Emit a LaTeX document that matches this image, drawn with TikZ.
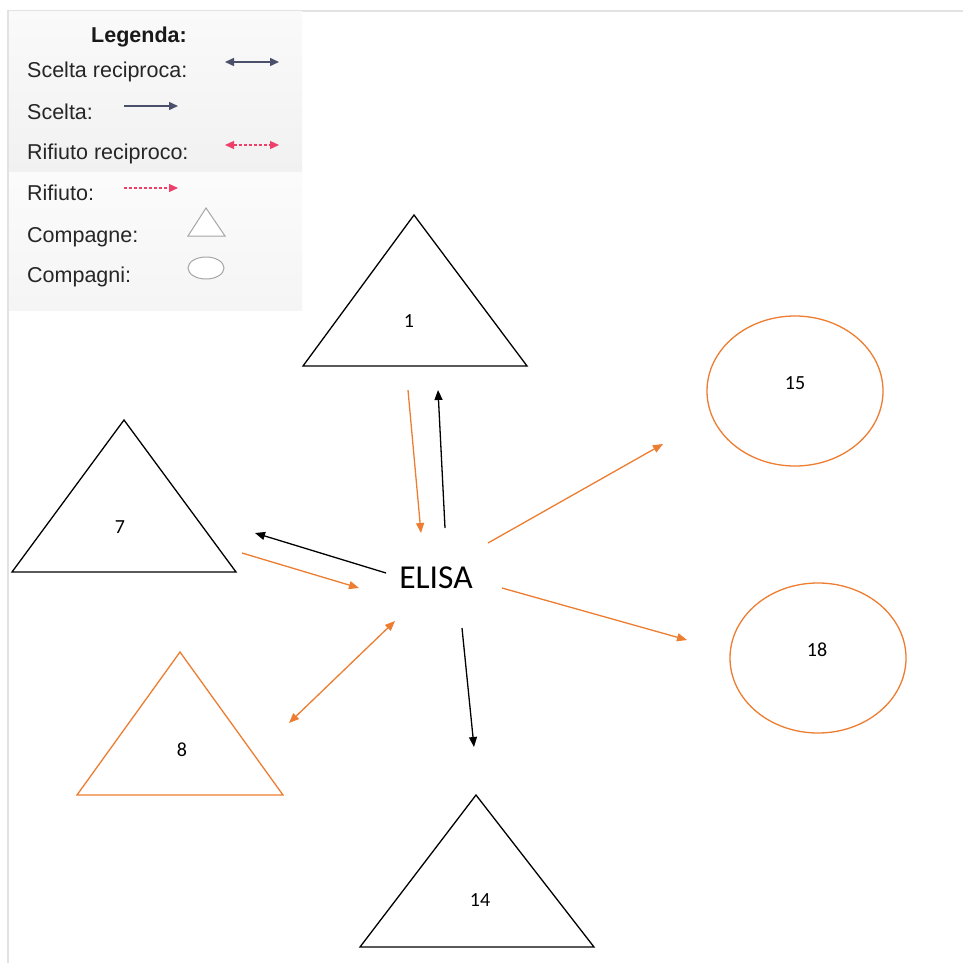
\documentclass[tikz,border=0pt]{standalone}
\usepackage{fontspec}
\setmainfont{Liberation Sans}
\newfontfamily\calib{Carlito}
\usetikzlibrary{arrows.meta}
\definecolor{orng}{HTML}{ED7D31}
\definecolor{slate}{HTML}{4A4F6A}
\definecolor{pinkr}{HTML}{EE3E6A}
\definecolor{frame}{HTML}{E2E2E2}
\tikzset{
  shp/.style={line width=1.3pt, line join=miter},
  num/.style={font=\calib\fontsize{20}{24}\selectfont, inner sep=0pt},
  legtxt/.style={font=\fontsize{21.5}{25}\selectfont, anchor=west, inner sep=0pt, text=black!85},
  arr/.style={line width=1.3pt, -{Triangle[length=10pt,width=8pt]}},
  darr/.style={line width=1.3pt, {Triangle[length=10pt,width=8pt]}-{Triangle[length=10pt,width=8pt]}},
  legarr/.style={line width=1.5pt, -{Triangle[length=9pt,width=8pt]}},
  legdarr/.style={line width=1.5pt, {Triangle[length=9pt,width=8pt]}-{Triangle[length=9pt,width=8pt]}},
}
\begin{document}
\begin{tikzpicture}[x=1pt,y=-1pt]
\useasboundingbox (0,0) rectangle (963,963);
\fill[white] (0,0) rectangle (963,963);
% frame
\draw[frame, line width=1.5pt] (8,963) -- (8,11) -- (963,11);
% legend background
\shade[top color=gray!4, bottom color=gray!11] (9,12) rectangle (302,172);
\shade[top color=gray!3, bottom color=gray!8] (9,172) rectangle (302,310);
% legend texts
\node[font=\bfseries\fontsize{21.5}{25}\selectfont, inner sep=0pt, text=black!90] (lt) at (139,37) {Legenda:};
\node[legtxt] (l1) at (27,72) {Scelta reciproca:};
\node[legtxt] (l2) at (27,112) {Scelta:};
\node[legtxt] (l3) at (27,154) {Rifiuto reciproco:};
\node[legtxt] (l4) at (27,193) {Rifiuto:};
\node[legtxt] (l5) at (27,237) {Compagne:};
\node[legtxt] (l6) at (27,277) {Compagni:};
% legend symbols
\coordinate (a1s) at (225,62); \coordinate (a1e) at (279,62);
\coordinate (a2s) at (124,106); \coordinate (a2e) at (178,106);
\coordinate (a3s) at (225,145); \coordinate (a3e) at (279,145);
\coordinate (a4s) at (124,188); \coordinate (a4e) at (178,188);
\draw[legdarr, slate] (a1s) -- (a1e);
\draw[legarr, slate] (a2s) -- (a2e);
\draw[legdarr, pinkr, densely dashed, line width=1.2pt] (a3s) -- (a3e);
\draw[legarr, pinkr, densely dashed, line width=1.2pt] (a4s) -- (a4e);
\draw[gray!70, line width=1pt, fill=white] (206,208) -- (225,236) -- (188,236) -- cycle;
\draw[gray!70, line width=1pt, fill=white] (206,268) ellipse [x radius=18, y radius=11];
% shapes
\draw[shp, black] (414,215) -- (527,366) -- (303,366) -- cycle;
\node[num] (n1) at (409,321) {1};
\draw[shp, black] (124,420) -- (236,572) -- (12,572) -- cycle;
\node[num] (n7) at (120,527) {7};
\draw[shp, orng] (180,652) -- (283,795) -- (77,795) -- cycle;
\node[num] (n8) at (182,750) {8};
\draw[shp, black] (476,795) -- (594,947) -- (360,947) -- cycle;
\node[num] (n14) at (480,900) {14};
\draw[shp, orng] (795,391) ellipse [x radius=88, y radius=75];
\node[num] (n15) at (795,383) {15};
\draw[shp, orng] (818,658) ellipse [x radius=88, y radius=75];
\node[num] (n18) at (817,650) {18};
% center
\node[font=\calib\fontsize{33.5}{38}\selectfont, inner sep=0pt] (elisa) at (436,578) {ELISA};
% arrow endpoints
\coordinate (p1a) at (408,390); \coordinate (p1b) at (421,533);
\coordinate (p2a) at (445,528); \coordinate (p2b) at (438,390);
\coordinate (p3a) at (386,573); \coordinate (p3b) at (255,533);
\coordinate (p4a) at (242,553); \coordinate (p4b) at (359,588);
\coordinate (p5a) at (395,621); \coordinate (p5b) at (289,723);
\coordinate (p6a) at (462,628); \coordinate (p6b) at (474,747);
\coordinate (p7a) at (488,543); \coordinate (p7b) at (663,444);
\coordinate (p8a) at (502,588); \coordinate (p8b) at (687,640);
\draw[arr, orng] (p1a) -- (p1b);
\draw[arr, black] (p2a) -- (p2b);
\draw[arr, black] (p3a) -- (p3b);
\draw[arr, orng] (p4a) -- (p4b);
\draw[darr, orng] (p5a) -- (p5b);
\draw[arr, black] (p6a) -- (p6b);
\draw[arr, orng] (p7a) -- (p7b);
\draw[arr, orng] (p8a) -- (p8b);
\end{tikzpicture}
\end{document}
